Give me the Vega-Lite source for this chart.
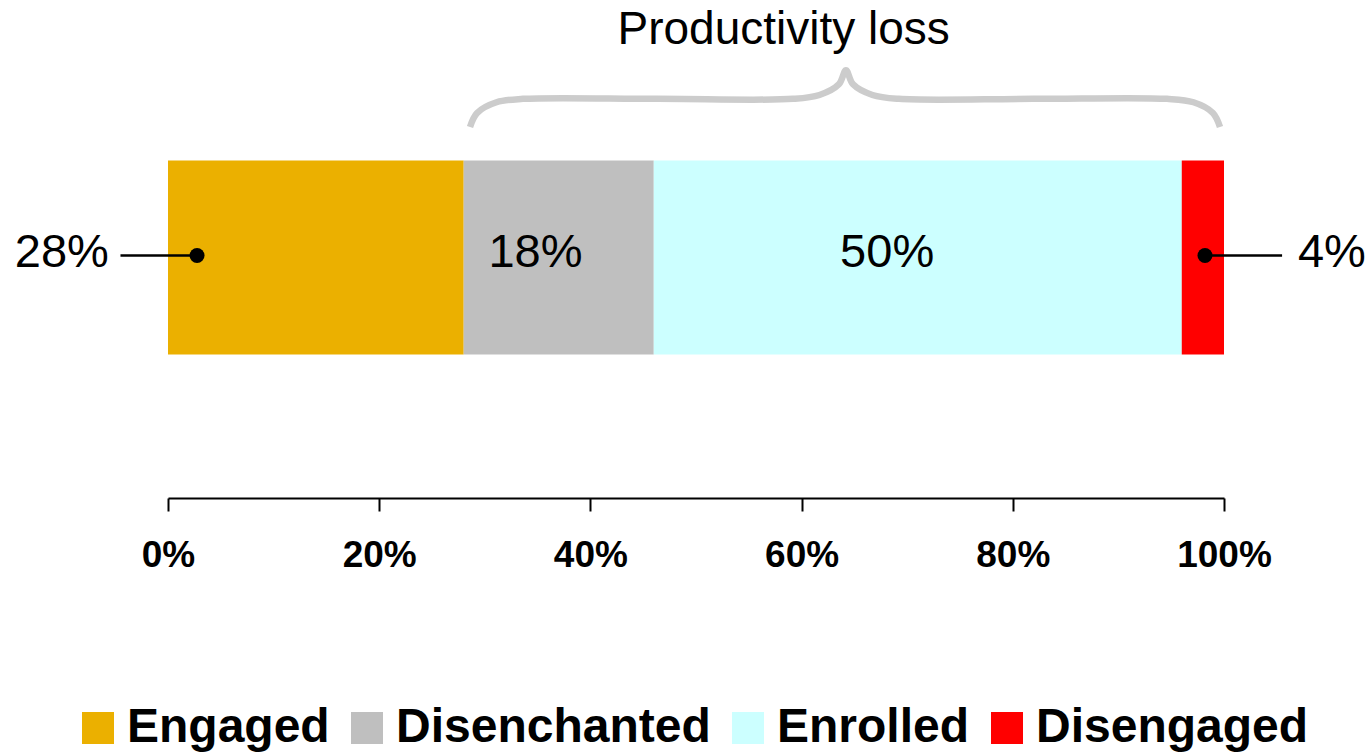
{
  "$schema": "https://vega.github.io/schema/vega-lite/v6.json",
  "width": 1056,
  "height": 388,
  "autosize": {"type": "none"},
  "padding": {"left": 168, "top": 110, "right": 146, "bottom": 254},
  "background": "white",
  "config": {"view": {"stroke": null}, "font": "Liberation Sans"},
  "datasets": {
    "shares": [
      {"status": "Engaged", "share": 28, "seq": 1, "label_x": -5.6},
      {"status": "Disenchanted", "share": 18, "seq": 2, "label_x": 34.8},
      {"status": "Enrolled", "share": 50, "seq": 3, "label_x": 68.1},
      {"status": "Disengaged", "share": 4, "seq": 4, "label_x": 107.0}
    ],
    "leaders": [
      {"status": "Engaged", "from": -4.5, "to": 2.75, "dot": 2.75},
      {"status": "Disengaged", "from": 98.2, "to": 105.5, "dot": 98.2}
    ],
    "brace": [
      {"i": 1, "bx": 28.6, "by": 7.65},
      {"i": 2, "bx": 29.27, "by": 7.94},
      {"i": 3, "bx": 31.11, "by": 8.16},
      {"i": 4, "bx": 33.62, "by": 8.23},
      {"i": 5, "bx": 46.4, "by": 8.23},
      {"i": 6, "bx": 59.19, "by": 8.23},
      {"i": 7, "bx": 61.69, "by": 8.31},
      {"i": 8, "bx": 63.53, "by": 8.53},
      {"i": 9, "bx": 64.2, "by": 8.82},
      {"i": 10, "bx": 64.87, "by": 8.53},
      {"i": 11, "bx": 66.71, "by": 8.31},
      {"i": 12, "bx": 69.22, "by": 8.23},
      {"i": 13, "bx": 81.9, "by": 8.23},
      {"i": 14, "bx": 94.6, "by": 8.23},
      {"i": 15, "bx": 97.11, "by": 8.16},
      {"i": 16, "bx": 98.95, "by": 7.94},
      {"i": 17, "bx": 99.62, "by": 7.65}
    ]
  },
  "layer": [
    {
      "data": {"name": "shares"},
      "transform": [
        {"stack": "share", "groupby": [], "sort": [{"field": "seq"}], "as": ["x0", "x1"]}
      ],
      "mark": {"type": "rect"},
      "encoding": {
        "x": {
          "field": "x0",
          "type": "quantitative",
          "scale": {"domain": [0, 100], "nice": false},
          "axis": {
            "values": [0, 20, 40, 60, 80, 100],
            "labelExpr": "datum.value + '%'",
            "labelFont": "Liberation Sans",
            "labelFontSize": 37,
            "labelFontWeight": "bold",
            "labelColor": "black",
            "labelPadding": 26,
            "labelFlush": false,
            "labelOverlap": false,
            "labelBound": false,
            "tickSize": 13,
            "tickWidth": 2,
            "tickColor": "black",
            "domainColor": "black",
            "domainWidth": 2,
            "grid": false,
            "title": null
          }
        },
        "x2": {"field": "x1"},
        "y": {"datum": 2.96, "type": "quantitative", "scale": {"domain": [0, 8], "nice": false}, "axis": null},
        "y2": {"datum": 6.96},
        "color": {
          "field": "status",
          "type": "nominal",
          "scale": {
            "domain": ["Engaged", "Disenchanted", "Enrolled", "Disengaged"],
            "range": ["#EBB000", "#BFBFBF", "#CCFFFF", "#FF0000"]
          },
          "legend": {
            "orient": "none",
            "direction": "horizontal",
            "columns": 4,
            "legendX": -94,
            "legendY": 594,
            "title": null,
            "symbolType": "square",
            "symbolSize": 1024,
            "symbolStrokeWidth": 0,
            "symbolOpacity": 1,
            "labelFont": "Liberation Sans",
            "labelFontSize": 48,
            "labelFontWeight": "bold",
            "labelColor": "black",
            "labelOffset": 5,
            "labelLimit": 0,
            "columnPadding": 13
          }
        }
      }
    },
    {
      "data": {"name": "shares"},
      "transform": [
        {"calculate": "datum.share + '%'", "as": "share_label"},
        {"filter": "datum.status == 'Disenchanted' || datum.status == 'Enrolled'"}
      ],
      "mark": {"type": "text", "align": "center", "baseline": "alphabetic", "dy": 11, "fontSize": 47, "font": "Liberation Sans", "color": "black"},
      "encoding": {
        "x": {"field": "label_x", "type": "quantitative", "scale": {"domain": [0, 100], "nice": false}},
        "y": {"datum": 5, "type": "quantitative"},
        "text": {"field": "share_label"}
      }
    },
    {
      "data": {"name": "shares"},
      "transform": [
        {"calculate": "datum.share + '%'", "as": "share_label"},
        {"filter": "datum.status == 'Engaged'"}
      ],
      "mark": {"type": "text", "align": "right", "baseline": "alphabetic", "dy": 11, "fontSize": 47, "font": "Liberation Sans", "color": "black"},
      "encoding": {
        "x": {"field": "label_x", "type": "quantitative", "scale": {"domain": [0, 100], "nice": false}},
        "y": {"datum": 5, "type": "quantitative"},
        "text": {"field": "share_label"}
      }
    },
    {
      "data": {"name": "shares"},
      "transform": [
        {"calculate": "datum.share + '%'", "as": "share_label"},
        {"filter": "datum.status == 'Disengaged'"}
      ],
      "mark": {"type": "text", "align": "left", "baseline": "alphabetic", "dy": 11, "fontSize": 47, "font": "Liberation Sans", "color": "black"},
      "encoding": {
        "x": {"field": "label_x", "type": "quantitative", "scale": {"domain": [0, 100], "nice": false}},
        "y": {"datum": 5, "type": "quantitative"},
        "text": {"field": "share_label"}
      }
    },
    {
      "data": {"name": "leaders"},
      "mark": {"type": "rule", "color": "black", "strokeWidth": 2.5},
      "encoding": {
        "x": {"field": "from", "type": "quantitative", "scale": {"domain": [0, 100], "nice": false}},
        "x2": {"field": "to"},
        "y": {"datum": 5, "type": "quantitative"}
      }
    },
    {
      "data": {"name": "leaders"},
      "mark": {"type": "point", "shape": "circle", "filled": true, "size": 225, "color": "black", "opacity": 1},
      "encoding": {
        "x": {"field": "dot", "type": "quantitative", "scale": {"domain": [0, 100], "nice": false}},
        "y": {"datum": 5, "type": "quantitative"}
      }
    },
    {
      "data": {"name": "brace"},
      "mark": {"type": "line", "interpolate": "catmull-rom", "color": "#CCCCCC", "strokeWidth": 6.5, "strokeCap": "butt", "strokeJoin": "round"},
      "encoding": {
        "x": {"field": "bx", "type": "quantitative", "scale": {"domain": [0, 100], "nice": false}},
        "y": {"field": "by", "type": "quantitative"},
        "order": {"field": "i", "type": "quantitative"}
      }
    },
    {
      "data": {"values": [{"caption": "Productivity loss", "cx": 58.3, "cy": 9.37}]},
      "mark": {"type": "text", "align": "center", "baseline": "alphabetic", "fontSize": 46, "letterSpacing": 2.9, "font": "Liberation Sans", "color": "black"},
      "encoding": {
        "x": {"field": "cx", "type": "quantitative", "scale": {"domain": [0, 100], "nice": false}},
        "y": {"field": "cy", "type": "quantitative"},
        "text": {"field": "caption"}
      }
    }
  ]
}
